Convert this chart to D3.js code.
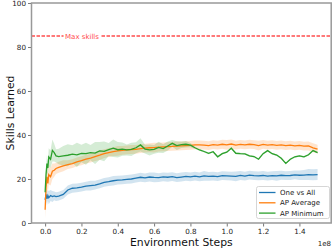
<!DOCTYPE html>
<html><head><meta charset="utf-8">
<script src="https://cdn.jsdelivr.net/npm/d3@7"></script>
<style>body{margin:0;background:#fff}svg{display:block}text{font-family:"DejaVu Sans",sans-serif}</style>
</head><body><svg id="c" width="332" height="249"></svg>
<script>
const steps = [0,0.005,0.01,0.015,0.02,0.03,0.04,0.05,0.06,0.075,0.1,
 0.125,0.15,0.175,0.2,0.225,0.25,0.275,0.3,0.325,0.35,0.375,0.4,0.425,0.45,0.475,0.5,0.525,0.55,0.575,0.6,0.625,0.65,0.675,0.7,0.725,0.75,0.775,0.8,
 0.825,0.85,0.875,0.9,0.925,0.95,0.975,1.0,1.025,1.05,1.075,1.1,1.125,1.15,1.175,1.2,1.225,1.25,1.275,1.3,1.325,1.35,1.375,1.4,1.425,1.45,1.475,1.5];
const oneVsAll = [10.5,13,11,12.5,11.5,12.5,12,12.3,12,12.2,13,
 15,15.8,16,16.3,16.8,17,17.2,17.8,18.5,18.8,19.2,19.5,19.6,19.8,20,20.4,20.8,20.5,20.9,20.7,20.6,21,20.8,21.1,20.6,20.9,21.2,21,
 21.3,21,21.4,21.2,21.3,21.1,21.5,21.4,21.3,21.2,21.6,21.3,21.8,21.5,21.4,21.6,21.3,21.5,21.4,21.7,21.5,21.6,21.9,21.7,21.8,22,21.9,22];
const oneVsAllErr = [2,3,3,2.5,3,2.5,2.5,2,2,2,2,
 2,2,2,2,2,2.2,2,2,2,2,2.2,2,2,2,2,2,2,2,2,2.2,2,2,2,2,2,2,2,2,
 2,2,2.2,2,2,2,2,2,2,2.2,2,2,2,2,2,2,2,2,2.2,2,2,2,2,2.2,2.3,2.5,2.5,2.5];
const apAverage = [6,16,21,18,22,21,23.5,24,24.8,25.3,26,
 26.5,27,27.8,28.3,29,29.5,30.2,30.8,31.5,32,32.4,32.8,33,33.2,33.4,33.5,33.8,34,34.2,34.3,34.5,34.6,34.7,34.8,35,35.1,35.2,35.3,
 35.5,35.5,35.4,35.2,35.6,35.4,35.8,35.5,35.9,35.4,35.7,35.5,35.8,35.6,35.2,35.7,35.4,35.6,35.3,35.5,35.2,35.4,35.1,35.3,34.9,35,34.2,33.6];
const apAverageErr = [4,5,5,4,4.5,4,3.5,3,2.5,2.5,2.5,
 2,2,2,2,2,2,2,2.2,2,2,2,2.2,2,2,2,2,2,2,2,2.2,2,2,2,2,2,2,2,2,
 2,2,2,2,2,2,2,2.2,2,2,2,2,2,2,2.2,2,2,2,2,2,2,2,2,2,2,2,2,2];
const apMinimum = [14,22,27,25,30,29,33,32,30.5,30.2,30.5,
 30.8,31.3,31,31.6,31.5,32,31.8,32.8,32.6,33.4,34,33.3,33.6,33.2,33.5,34.2,35.5,33.6,33.2,33.5,34.4,33.8,35,36.2,35.2,35.6,35.8,35.4,
 34.2,33.2,32.5,31.7,32.4,30.1,31.5,32.2,34,31.7,31.5,31.4,30.5,30.2,29,31.5,32.9,31.5,30.9,29.4,27.1,29,30.1,30.5,30.1,31,32.9,32];
const apMinimumErr = [3,2.5,4,3,4,4,5,4,3,3.5,4.5,
 5,4,5.5,4,5,3.5,5,4,4.5,3,4,3.5,3,2.5,3,2.5,3,2,2.5,2,2.5,2,2,1.5,2,1.5,1.5,1,
 0.4,0.4,0.4,0.4,0.4,0.4,0.4,0.4,0.4,0.4,0.4,0.4,0.4,0.4,0.4,0.4,0.4,0.4,0.4,0.4,0.4,0.4,0.4,0.4,0.4,0.4,0.4,0.4];
const seriesNames = ["One vs All","AP Average","AP Minimum"];
const seriesColors = ["#1f77b4","#ff7f0e","#2ca02c"];
const xTicks = [0,0.2,0.4,0.6,0.8,1.0,1.2,1.4];
const yTicks = [0,20,40,60,80,100];
const maxSkills = 85;

const svg = d3.select("#c");
const L=31.5, R=331.2, T=3, B=223;
const x = d3.scaleLinear().domain([-0.075,1.575]).range([L,R]);
const y = d3.scaleLinear().domain([0,100]).range([B,T]);

const data = [[oneVsAll,oneVsAllErr],[apAverage,apAverageErr],[apMinimum,apMinimumErr]];
const g = svg.append("g");
data.forEach(([v,e],i)=>{
  const pts = steps.map((s,k)=>({s,v:v[k],e:e[k]}));
  g.append("path").datum(pts)
    .attr("d", d3.area().x(d=>x(d.s)).y0(d=>y(d.v-d.e)).y1(d=>y(d.v+d.e)))
    .attr("fill", seriesColors[i]).attr("fill-opacity",0.2);
});
data.forEach(([v,e],i)=>{
  const pts = steps.map((s,k)=>({s,v:v[k]}));
  g.append("path").datum(pts)
    .attr("d", d3.line().x(d=>x(d.s)).y(d=>y(d.v)))
    .attr("fill","none").attr("stroke",seriesColors[i]).attr("stroke-width",1.3);
});

// max skills line
svg.append("line").attr("x1",L).attr("x2",R).attr("y1",y(maxSkills)).attr("y2",y(maxSkills))
  .attr("stroke","#ff4d4d").attr("stroke-width",1.3).attr("stroke-dasharray","3.5,1.5");
const lbl = svg.append("text").attr("x",82).attr("y",y(maxSkills)+2.5).attr("text-anchor","middle")
  .attr("font-size",7).attr("fill","#ff4d4d").text("Max skills");
const bb = lbl.node().getBBox();
svg.insert("rect","text").attr("x",bb.x-1.5).attr("y",bb.y).attr("width",bb.width+3).attr("height",bb.height).attr("fill","#fff");

// axes
const xa = svg.append("g").attr("transform",`translate(0,${B})`)
  .call(d3.axisBottom(x).tickValues(xTicks).tickFormat(d3.format(".1f")).tickSizeOuter(0).tickSize(3.5));
const ya = svg.append("g").attr("transform",`translate(${L},0)`)
  .call(d3.axisLeft(y).tickValues(yTicks).tickFormat(d3.format("d")).tickSizeOuter(0).tickSize(3.5));
[xa,ya].forEach(a=>{a.select(".domain").remove();
  a.selectAll("text").attr("font-size",7.2).attr("fill","#222").attr("font-family","DejaVu Sans");
  a.selectAll("line").attr("stroke","#555").attr("stroke-width",0.8);});
xa.selectAll("text").attr("dy","0.71em").attr("y",5.5);
ya.selectAll("text").attr("x",-5.5);

// spines
svg.append("rect").attr("x",L).attr("y",T).attr("width",R-L).attr("height",B-T)
  .attr("fill","none").attr("stroke","#999").attr("stroke-width",1.5);

svg.append("text").attr("x",(L+R)/2).attr("y",245.5).attr("text-anchor","middle").attr("font-size",10.8).attr("fill","#111").text("Environment Steps");
svg.append("text").attr("transform",`translate(13.5,${(T+B)/2}) rotate(-90)`).attr("text-anchor","middle").attr("font-size",10.8).attr("fill","#111").text("Skills Learned");
svg.append("text").attr("x",331).attr("y",246).attr("text-anchor","end").attr("font-size",7).attr("fill","#222").text("1e8");

// legend
const lg = svg.append("g");
lg.append("rect").attr("x",256.5).attr("y",186.5).attr("width",73).attr("height",32).attr("rx",2)
  .attr("fill","#fff").attr("fill-opacity",0.85).attr("stroke","#ccc").attr("stroke-width",0.8);
seriesNames.forEach((n,i)=>{
  const yy = 192.5 + i*10.3;
  lg.append("line").attr("x1",259).attr("x2",275.5).attr("y1",yy).attr("y2",yy).attr("stroke",seriesColors[i]).attr("stroke-width",1.3);
  lg.append("text").attr("x",280).attr("y",yy+2.5).attr("font-size",7).attr("fill","#222").text(n);
});
</script></body></html>
